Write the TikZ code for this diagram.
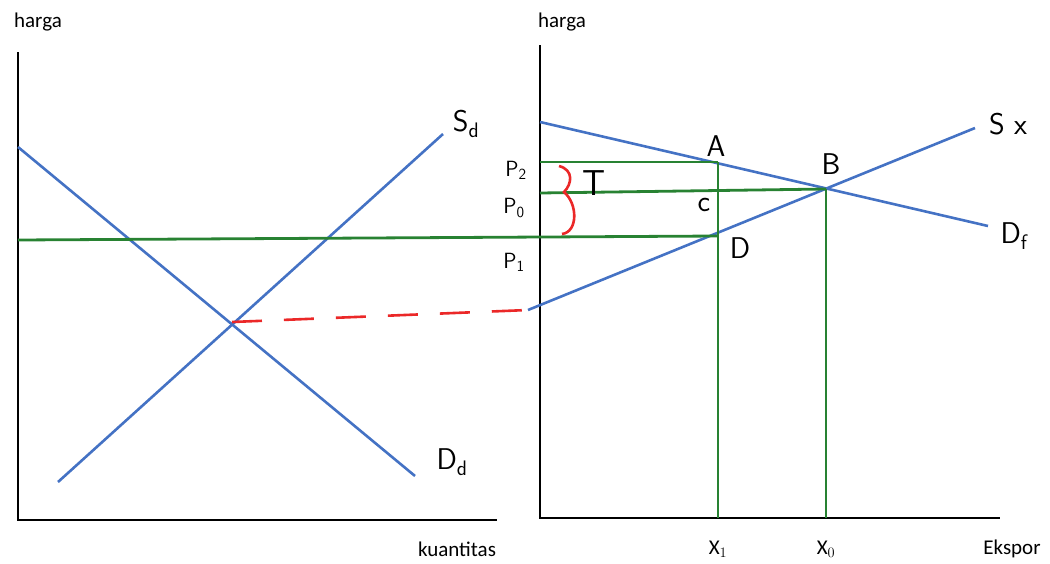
\documentclass[tikz,border=0pt]{standalone}
\usepackage{fontspec}
\setmainfont{Carlito}
\usepackage{xcolor}
\usetikzlibrary{arrows,positioning}
\definecolor{kurva}{RGB}{68,114,196}
\definecolor{hijau}{RGB}{40,130,50}
\definecolor{merah}{RGB}{235,40,40}
\tikzset{
  sumbu/.style={line width=2.6pt,black},
  kurvaline/.style={line width=2.6pt,kurva},
  garis/.style={line width=2.8pt,hijau},
  tulis/.style={font=\sffamily\fontsize{30}{34}\selectfont},
  kecil/.style={font=\sffamily\fontsize{22}{26}\selectfont},
  teks/.style={font=\fontsize{21}{25}\selectfont}
}

\begin{document}
\begin{tikzpicture}[x=1pt,y=-1pt]
\useasboundingbox (0,0) rectangle (1050,563);
% sumbu kiri
\coordinate (ka) at (18,52);
\coordinate (ko) at (18,520);
\coordinate (kb) at (497,520);
\draw [sumbu] (ka) -- (ko) -- (kb);
\node [teks] (harga1) at (38,22) {harga};
\node [teks] (kuant) at (457,549) {kuantitas};
% sumbu kanan
\coordinate (na) at (540,45);
\coordinate (no) at (540,518);
\coordinate (nb) at (1000,518);
\draw [sumbu] (na) -- (no) -- (nb);
\node [teks] (harga2) at (562,22) {harga};
\node [teks] (ekspor) at (1012,549) {Ekspor};
% kurva kiri
\coordinate (sd0) at (58,482);
\coordinate (sd1) at (443,134);
\coordinate (dd0) at (18,147);
\coordinate (dd1) at (415,476);
\coordinate (E) at (232,322);
\draw [kurvaline] (sd0) -- (sd1);
\draw [kurvaline] (dd0) -- (dd1);
\node [tulis] (Sd) at (466,124) {S\textsubscript{d}};
\node [tulis] (Dd) at (452,462) {D\textsubscript{d}};
% kurva kanan
\coordinate (df0) at (540,122);
\coordinate (df1) at (988,226);
\coordinate (sx0) at (528,310);
\coordinate (sx1) at (975,128);
\draw [kurvaline] (df0) -- (df1);
\draw [kurvaline] (sx0) -- (sx1);
\node [tulis] (Sx) at (1008,124) {S x};
\node [tulis] (Df) at (1014,236) {D\textsubscript{f}};
% titik
\coordinate (A) at (718,162);
\coordinate (B) at (826,189);
\coordinate (D) at (718,236);
\coordinate (p2) at (540,162);
\coordinate (p0) at (540,193);
\coordinate (p1) at (18,240);
\coordinate (x1) at (718,518);
\coordinate (x0) at (826,518);
\draw [garis] (p2) -- (A);
\draw [garis] (p0) -- (B);
\draw [garis] (p1) -- (D);
\draw [garis] (A) -- (x1);
\draw [garis] (B) -- (x0);
\draw [line width=2.6pt,merah,dash pattern=on 30pt off 22pt] (E) -- (sx0);
\draw [line width=2.6pt,merah] (559,166) .. controls (574,170) and (572,184) .. (564,192)
  .. controls (578,204) and (578,232) .. (562,234);
\node [tulis] (lA) at (716,146) {A};
\node [tulis] (lB) at (831,164) {B};
\node [tulis] (lC) at (704,205) {c};
\node [tulis] (lD) at (740,248) {D};
\node [tulis,font=\sffamily\fontsize{36}{40}\selectfont] (lT) at (594,183) {T};
\node [kecil] (P2) at (516,170) {P\textsubscript{2}};
\node [kecil] (P0) at (514,208) {P\textsubscript{0}};
\node [kecil] (P1) at (514,262) {P\textsubscript{1}};
\node [teks] (X1) at (718,549) {X$_1$};
\node [teks] (X0) at (826,549) {X$_0$};
\end{tikzpicture}
\end{document}
